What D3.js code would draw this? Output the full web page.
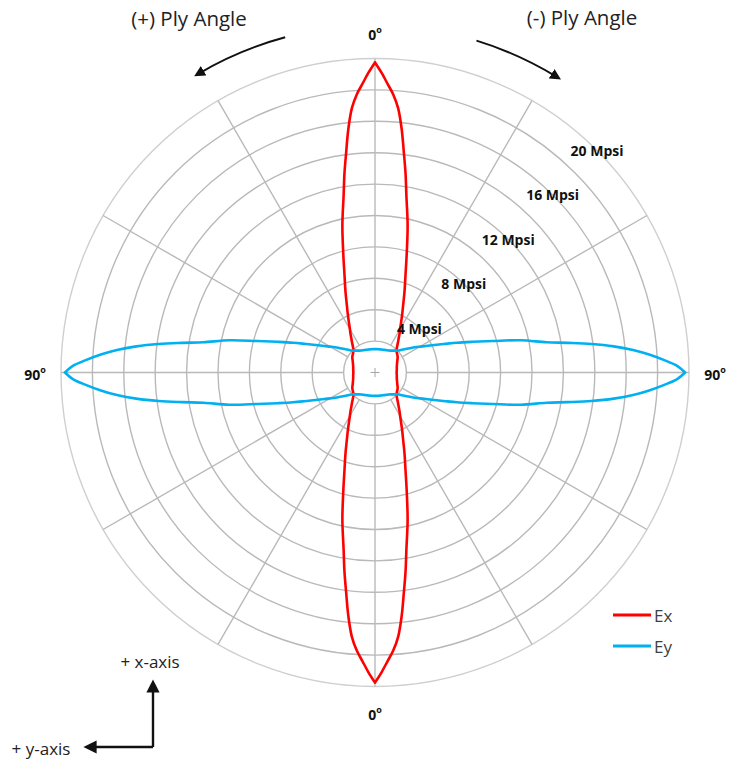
<!DOCTYPE html>
<html>
<head>
<meta charset="utf-8">
<script src="https://cdn.jsdelivr.net/npm/d3@7"></script>
<style>
  html, body { margin: 0; padding: 0; background: #fff; }
  svg { display: block; }
  text { font-family: "Open Sans", "Lato", sans-serif; }
</style>
</head>
<body>
<svg id="chart" width="731" height="763"></svg>
<script>
// Ply angle (deg) for one quadrant; the laminate response is symmetric about both axes.
// Finer steps near 0 and 90 deg where the moduli change fastest.
const plyAngles = [0, 1.25, 2.5, 3.75, 5, 6.25, 7.5, 8.75, 10,
                   12.5, 15, 17.5, 20, 22.5, 25, 27.5, 30, 32.5, 35, 37.5, 40, 42.5, 45,
                   47.5, 50, 52.5, 55, 57.5, 60, 62.5, 65, 67.5, 70, 72.5, 75, 77.5,
                   80, 81.25, 82.5, 83.75, 85, 86.25, 87.5, 88.75, 90];
// Axial modulus Ex (Mpsi) at each ply angle
const exValues = [19.75, 19.1, 18.4, 17.75, 16.9, 15.6, 14.1, 12.8, 11.5,
                  9.6, 7.8, 6.45, 5.5, 4.7, 4.1, 3.6, 3.2, 2.9, 2.62, 2.4, 2.2, 2.05, 1.95,
                  1.88, 1.84, 1.8, 1.76, 1.71, 1.65, 1.6, 1.56, 1.52, 1.49, 1.46, 1.44, 1.42,
                  1.41, 1.405, 1.4, 1.395, 1.39, 1.385, 1.38, 1.38, 1.38];
// Transverse modulus Ey (Mpsi) at each ply angle
const eyValues = [1.49, 1.49, 1.49, 1.49, 1.49, 1.495, 1.5, 1.5, 1.5,
                  1.51, 1.52, 1.53, 1.54, 1.56, 1.58, 1.6, 1.63, 1.66, 1.7, 1.76, 1.82, 1.89, 1.97,
                  2.08, 2.25, 2.45, 2.7, 3.0, 3.3, 3.65, 4.15, 4.75, 5.55, 6.5, 7.75, 9.5,
                  11.1, 12.4, 13.9, 15.3, 16.5, 17.5, 18.4, 19.25, 19.75];

const ringValues = [2, 4, 6, 8, 10, 12, 14, 16, 18, 20];
const ringLabelValues = [4, 8, 12, 16, 20];
const spokeAngles = [0, 30, 60, 90, 120, 150, 180, 210, 240, 270, 300, 330];
const angleLabels = [
  { angle: 0, text: "0" },
  { angle: 90, text: "90" },
  { angle: 180, text: "0" },
  { angle: 270, text: "90" }
];
const seriesNames = ["Ex", "Ey"];
const seriesColors = ["#ff0000", "#00b0f0"];

const cx = 375, cy = 372.5, outerR = 314;
const rad = d => d * Math.PI / 180;

const svg = d3.select("#chart");
const g = svg.append("g").attr("transform", `translate(${cx},${cy})`);

const r = d3.scaleLinear().domain([0, 20]).range([0, outerR]);

// Concentric rings every 2 Mpsi
g.append("g").selectAll("circle")
  .data(ringValues)
  .join("circle")
  .attr("r", d => r(d))
  .attr("fill", "none")
  .attr("stroke", d => d === 20 ? "#cfcfcf" : "#b9b9b9")
  .attr("stroke-width", 1.4);

// Radial spokes every 30 degrees, starting at the first ring
g.append("g").selectAll("line")
  .data(spokeAngles)
  .join("line")
  .each(function (a) {
    const [x1, y1] = d3.pointRadial(rad(a), r(ringValues[0]));
    const [x2, y2] = d3.pointRadial(rad(a), r(20));
    d3.select(this).attr("x1", x1).attr("y1", y1).attr("x2", x2).attr("y2", y2);
  })
  .attr("stroke", "#b9b9b9")
  .attr("stroke-width", 1.4);

// Small centre cross
g.append("path")
  .attr("d", "M-4.5,0H4.5M0,-4.5V4.5")
  .attr("stroke", "#a6a6a6")
  .attr("stroke-width", 1);

// Modulus curves: one radial line per quadrant, joined into a closed outline
const radialLine = d3.lineRadial()
  .angle(d => d.a)
  .radius(d => r(d.v))
  .curve(d3.curveCatmullRom.alpha(0.5));

const quadrants = [
  { o: 0, s: 1 },    // upper right
  { o: 180, s: -1 }, // lower right
  { o: 180, s: 1 },  // lower left
  { o: 360, s: -1 }  // upper left
];

function outline(values) {
  return quadrants.map(q =>
    radialLine(plyAngles.map((p, i) => ({ a: rad(q.o + q.s * p), v: values[i] })))
  ).join("");
}

[exValues, eyValues].forEach((vals, k) => {
  g.append("path")
    .attr("d", outline(vals))
    .attr("fill", "none")
    .attr("stroke", seriesColors[k])
    .attr("stroke-width", 2.6)
    .attr("stroke-linejoin", "round")
    .attr("stroke-linecap", "round");
});

// Ring value labels on the 45 degree diagonal
g.append("g").selectAll("text")
  .data(ringLabelValues)
  .join("text")
  .attr("x", d => d3.pointRadial(rad(45), r(d))[0])
  .attr("y", d => d3.pointRadial(rad(45), r(d))[1])
  .attr("text-anchor", "middle")
  .attr("dominant-baseline", "central")
  .attr("font-size", 14)
  .attr("font-weight", 700)
  .attr("fill", "#111")
  .text(d => `${d} Mpsi`);

// Angle labels around the rim
const degLabels = g.append("g").selectAll("text")
  .data(angleLabels)
  .join("text")
  .attr("x", d => d3.pointRadial(rad(d.angle), 340)[0])
  .attr("y", d => d3.pointRadial(rad(d.angle), 340)[1] + 1.5)
  .attr("text-anchor", "middle")
  .attr("dominant-baseline", "central")
  .attr("font-size", 14)
  .attr("font-weight", 700)
  .attr("fill", "#111");
degLabels.append("tspan").text(d => d.text);
degLabels.append("tspan").attr("font-size", 9).attr("dy", -5).text("o");

// Ply angle direction arrows
const defs = svg.append("defs");
defs.append("marker")
  .attr("id", "head")
  .attr("viewBox", "0 0 10 10")
  .attr("refX", 5).attr("refY", 5)
  .attr("markerWidth", 5.5).attr("markerHeight", 5.5)
  .attr("orient", "auto")
  .append("path").attr("d", "M0,0L10,5L0,10Z").attr("fill", "#111");

const arrowR = 347;
[[-15, -30.5], [17, 31.5]].forEach(([a0, a1]) => {
  const [x0, y0] = d3.pointRadial(rad(a0), arrowR);
  const [x1, y1] = d3.pointRadial(rad(a1), arrowR);
  const sweep = a1 > a0 ? 1 : 0;
  g.append("path")
    .attr("d", `M${x0},${y0}A${arrowR},${arrowR} 0 0 ${sweep} ${x1},${y1}`)
    .attr("fill", "none")
    .attr("stroke", "#111")
    .attr("stroke-width", 2)
    .attr("marker-end", "url(#head)");
});

svg.append("text").attr("x", 189).attr("y", 18)
  .attr("text-anchor", "middle").attr("dominant-baseline", "central")
  .attr("font-size", 20.5).attr("fill", "#222").text("(+) Ply Angle");
svg.append("text").attr("x", 582).attr("y", 17)
  .attr("text-anchor", "middle").attr("dominant-baseline", "central")
  .attr("font-size", 20.5).attr("fill", "#222").text("(-) Ply Angle");

// Legend
const legend = svg.append("g").attr("transform", "translate(613,615)");
seriesNames.forEach((name, i) => {
  const row = legend.append("g").attr("transform", `translate(0,${i * 31})`);
  row.append("line").attr("x1", 0).attr("x2", 38).attr("y1", 0).attr("y2", 0)
    .attr("stroke", seriesColors[i]).attr("stroke-width", 3);
  row.append("text").attr("x", 41).attr("y", 0).attr("dominant-baseline", "central")
    .attr("font-size", 17).attr("fill", "#404040").text(name);
});

// Laminate coordinate axes indicator
const axes = svg.append("g");
axes.append("path")
  .attr("d", "M153,747V686")
  .attr("stroke", "#111").attr("stroke-width", 2.4).attr("fill", "none")
  .attr("marker-end", "url(#head)");
axes.append("path")
  .attr("d", "M153,747H90")
  .attr("stroke", "#111").attr("stroke-width", 2.4).attr("fill", "none")
  .attr("marker-end", "url(#head)");
axes.append("text").attr("x", 150).attr("y", 661).attr("text-anchor", "middle")
  .attr("dominant-baseline", "central").attr("font-size", 17).attr("fill", "#222").text("+ x-axis");
axes.append("text").attr("x", 41).attr("y", 748).attr("text-anchor", "middle")
  .attr("dominant-baseline", "central").attr("font-size", 17).attr("fill", "#222").text("+ y-axis");
</script>
</body>
</html>
